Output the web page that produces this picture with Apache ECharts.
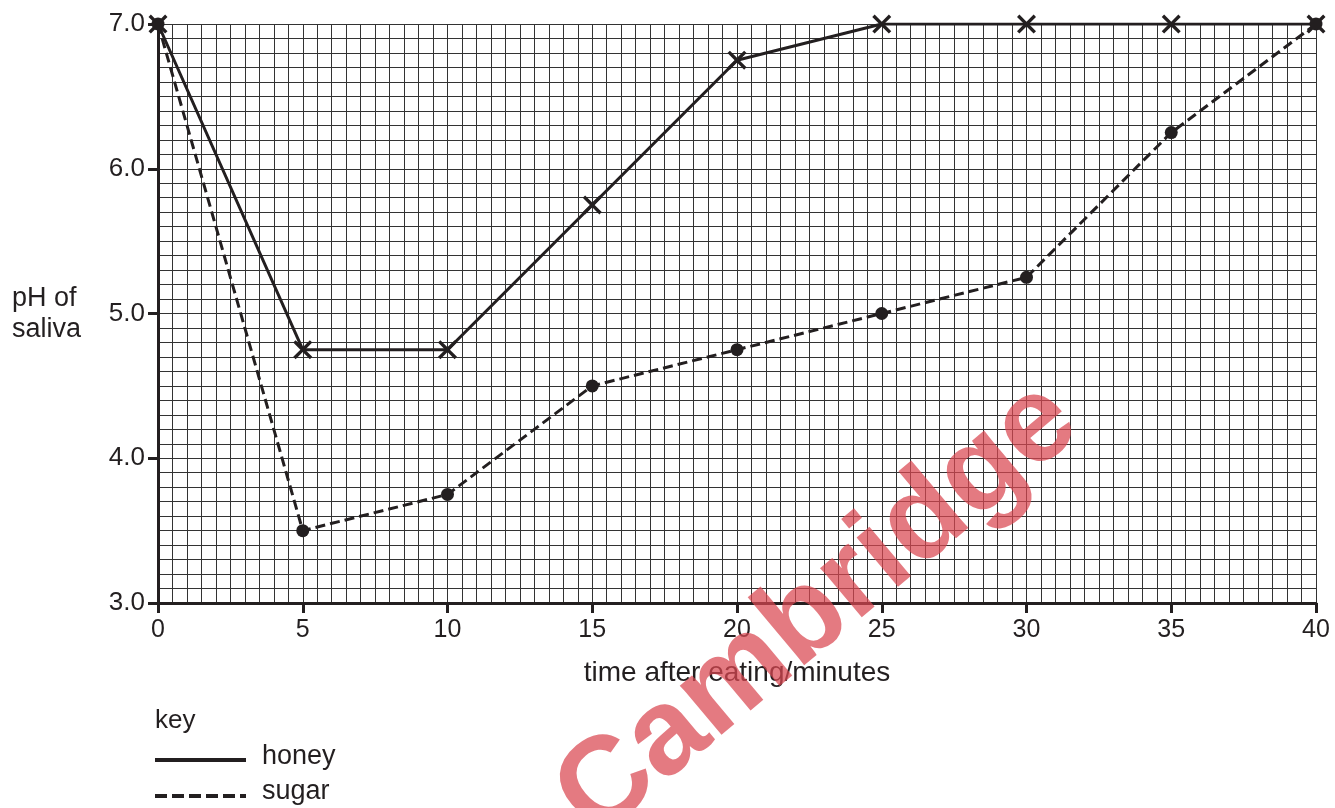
<!DOCTYPE html>
<html>
<head>
<meta charset="utf-8">
<script src="https://cdn.jsdelivr.net/npm/echarts@6/dist/echarts.min.js"></script>
<style>
html,body{margin:0;padding:0;background:#fff;}
#chart{width:1335px;height:808px;}
</style>
</head>
<body>
<div id="chart"></div>
<script>
const times = [0, 5, 10, 15, 20, 25, 30, 35, 40];
const honey = [7.0, 4.75, 4.75, 5.75, 6.75, 7.0, 7.0, 7.0, 7.0];
const sugar = [7.0, 3.5, 3.75, 4.5, 4.75, 5.0, 5.25, 6.25, 7.0];
const seriesNames = ['honey', 'sugar'];
const xAxisTitle = 'time after eating/minutes';
const yAxisTitle = 'pH of\nsaliva';
const keyTitle = 'key';
const watermark = 'Cambridge';

const ink = '#231f20';
const gridColor = '#333333';
const font = '"Liberation Sans", Arial, sans-serif';
const crossPath = 'path://M0,1.5 L1.5,0 L6,4.5 L10.5,0 L12,1.5 L7.5,6 L12,10.5 L10.5,12 L6,7.5 L1.5,12 L0,10.5 L4.5,6 Z';

const chart = echarts.init(document.getElementById('chart'));
chart.setOption({
  animation: false,
  backgroundColor: '#fff',
  grid: {left: 158, right: 19, top: 24, bottom: 205, containLabel: false},
  xAxis: {
    type: 'value', min: 0, max: 40, interval: 5,
    axisLine: {show: true, onZero: false, lineStyle: {color: ink, width: 3}},
    axisTick: {show: true, length: 10, lineStyle: {color: ink, width: 3}},
    axisLabel: {color: ink, fontSize: 25, fontFamily: font, margin: 15,
      formatter: v => String(v)},
    splitLine: {show: true, lineStyle: {color: gridColor, width: 1}},
    minorTick: {show: false, splitNumber: 10},
    minorSplitLine: {show: true, lineStyle: {color: gridColor, width: 1}},
    name: xAxisTitle, nameLocation: 'middle', nameGap: 56,
    nameTextStyle: {color: ink, fontSize: 28, fontFamily: font}
  },
  yAxis: {
    type: 'value', min: 3, max: 7, interval: 1,
    axisLine: {show: true, onZero: false, lineStyle: {color: ink, width: 3}},
    axisTick: {show: true, length: 10, lineStyle: {color: ink, width: 3}},
    axisLabel: {color: ink, fontSize: 26, fontFamily: font, margin: 13,
      formatter: v => v.toFixed(1)},
    splitLine: {show: true, lineStyle: {color: gridColor, width: 1}},
    minorTick: {show: false, splitNumber: 10},
    minorSplitLine: {show: true, lineStyle: {color: gridColor, width: 1}}
  },
  series: [
    {
      name: seriesNames[0], type: 'line',
      data: times.map((t, i) => [t, honey[i]]),
      symbol: crossPath, symbolSize: 19, showAllSymbol: true,
      itemStyle: {color: ink},
      lineStyle: {color: ink, width: 3, type: 'solid'},
      z: 3
    },
    {
      name: seriesNames[1], type: 'line',
      data: times.map((t, i) => [t, sugar[i]]),
      symbol: 'circle', symbolSize: 13, showAllSymbol: true,
      itemStyle: {color: ink},
      lineStyle: {color: ink, width: 3, type: [10, 5]},
      z: 4
    }
  ],
  graphic: [
    {type: 'text', left: 12, top: 283,
      style: {text: yAxisTitle, fill: ink, fontSize: 27, fontFamily: font, lineHeight: 31}},
    {type: 'text', left: 155, top: 708,
      style: {text: keyTitle, fill: ink, fontSize: 26, fontFamily: font}},
    {type: 'line', shape: {x1: 155, y1: 760, x2: 246, y2: 760},
      style: {stroke: ink, lineWidth: 4}},
    {type: 'text', left: 262, top: 743,
      style: {text: seriesNames[0], fill: ink, fontSize: 27, fontFamily: font}},
    {type: 'line', shape: {x1: 155, y1: 796, x2: 246, y2: 796},
      style: {stroke: ink, lineWidth: 4, lineDash: [12, 5]}},
    {type: 'text', left: 262, top: 778,
      style: {text: seriesNames[1], fill: ink, fontSize: 27, fontFamily: font}},
    {type: 'text', x: 818, y: 610, rotation: 40 * Math.PI / 180, z: 100,
      style: {text: watermark, fill: 'rgba(218,70,80,0.72)', fontSize: 122,
        fontWeight: 'bold', fontFamily: font, align: 'center', verticalAlign: 'middle'}}
  ]
});
</script>
</body>
</html>
